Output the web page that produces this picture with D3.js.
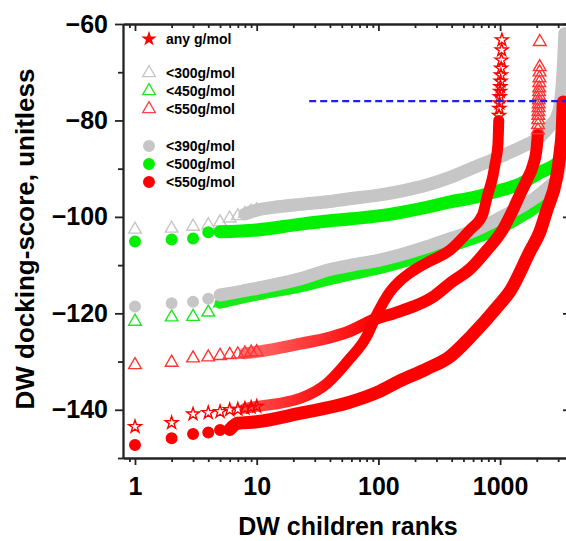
<!DOCTYPE html>
<meta charset="utf-8">

<head>
    <title>DW children ranks</title>
</head>

<style>
    body { margin: 0; background: #fff; }
    text { font-family: Arial, "Liberation Sans", sans-serif; font-weight: bold; fill: #000; }
</style>

<body>
    <svg></svg>

    <script src="https://cdnjs.cloudflare.com/ajax/libs/d3/7.8.5/d3.min.js"></script>
    <script>

        // Data: ranks 1..10 are single markers, the rest is a dense band
        const firstRanks = [1, 2, 3, 4, 5, 6, 7, 8, 9, 10];

        const grayTriFirst = [-102.6, -102.4, -102.0, -101.7, -101.1, -100.3, -99.8, -99.4, -98.9, -98.6];
        const grayTriBand = [[8, -99.4], [10, -98.6], [15, -97.9], [23, -97.4], [40, -96.8], [60, -96.2], [100, -95.5],
            [150, -94.7], [250, -93.4], [388, -91.8], [600, -89.8], [1000, -87.5], [1500, -85.5], [2120, -83.4],
            [2600, -81], [2900, -79.5], [3100, -77], [3250, -72], [3350, -66], [3400, -62]];

        const grayCircFirst = [-118.6, -117.9, -117.6, -117.0, -116.2, -115.8, -115.5, -115.1, -114.9, -114.8];
        const grayCircBand = [[5, -116.2], [10, -114.8], [23, -112.8], [40, -110.9], [60, -110], [100, -109],
            [150, -107.9], [250, -106.2], [388, -104.5], [565, -103.2], [1000, -100.2], [1500, -97.8],
            [2000, -95.8], [2500, -93.8], [2900, -92.2], [3150, -88.5]];

        const greenCircFirst = [-105.1, -104.7, -104.5, -103.2, -103.1, -103.1, -103.0, -102.9, -102.8, -102.7];
        const greenCircBand = [[5, -103.1], [10, -102.7], [23, -101.5], [40, -100.8], [60, -100.4], [100, -99.8],
            [150, -99.1], [250, -98], [388, -96.9], [600, -96], [1000, -94.5], [1450, -93.2], [2120, -90.8],
            [2900, -89], [3100, -88.3], [3250, -86.5]];

        const greenTriFirst = [-121.7, -120.8, -120.7, -119.8, -117.9, -117.4, -116.9, -116.6, -116.4, -116.2];
        const greenTriBand = [[5, -117.9], [10, -116.2], [23, -114.5], [40, -113], [60, -112], [100, -110.8],
            [150, -109.6], [250, -108], [388, -106.3], [565, -104.8], [1000, -102.5], [1500, -100], [2000, -97.9],
            [2700, -93.7], [3100, -90.3]];

        const redTriFirst = [-130.7, -130.2, -129.3, -129.1, -128.8, -128.6, -128.5, -128.3, -128.1, -128.0];
        const redTriBand = [[8, -128.3], [10, -128], [23, -126.3], [40, -125], [57, -123.8], [90, -121.4],
            [150, -119.6], [280, -116.6], [400, -113.5], [565, -110.8], [780, -106.9], [1060, -102.5],
            [1250, -99], [1460, -95.3], [1650, -92.5], [1870, -89.2], [1990, -86.1], [2040, -83]];
        const redTriColumn = [[2045, -82], [2050, -80.9], [2055, -79.9], [2060, -79], [2065, -78.2], [2070, -77.4],
            [2075, -76.6], [2080, -75.8], [2085, -74.9], [2090, -74.1], [2095, -73.3], [2100, -72.2],
            [2105, -71.2], [2110, -70], [2115, -68.9], [2120, -63.7]];

        const starFirst = [-143.5, -142.7, -140.9, -140.6, -140.4, -140.0, -139.9, -139.7, -139.5, -139.3];
        const starBand = [[8, -139.7], [10, -139.3], [15, -138.7], [23, -137.6], [38, -134.5], [57, -129.7],
            [80, -124.8], [96, -120.5], [124, -115.6], [150, -113.3], [182, -111.6], [250, -109.5], [387, -106.9],
            [565, -102.7], [720, -99.5], [780, -96], [873, -91.5], [910, -89], [960, -85], [975, -80]];
        const starColumn = [[980, -79], [985, -77.5], [990, -76.4], [995, -75.1], [1000, -74], [1005, -73],
            [1010, -71.9], [1015, -70.6], [1020, -69.2], [1025, -67.5], [1030, -65.4], [1035, -63.3]];

        const redCircFirst = [-147.3, -145.9, -145.0, -144.7, -144.2, -144.1, -142.8, -142.7, -142.6, -142.5];
        const redCircBand = [[6, -144.1], [7, -142.8], [10, -142.5], [23, -140.7], [57, -138.5], [100, -136.3],
            [150, -134], [250, -131.5], [386, -129], [565, -125], [1000, -118], [1200, -115.5], [1770, -107],
            [2130, -103], [2420, -98.6], [2900, -92], [3100, -87], [3250, -81], [3300, -76.2]];

        const cutoffRanks = [27, 3614];
        const cutoffScore = -76;

        const legendLabels = ['any g/mol', '<300g/mol', '<450g/mol', '<550g/mol', '<390g/mol', '<500g/mol', '<550g/mol'];
        const xTickLabels = [1, 10, 100, 1000];
        const xMinorTicks = [0.9, 2, 3, 4, 5, 6, 7, 8, 9, 20, 30, 40, 50, 60, 70, 80, 90,
            200, 300, 400, 500, 600, 700, 800, 900, 2000, 3000];
        const yTickLabels = [-60, -80, -100, -120, -140];
        const yMinorTicks = [-70, -90, -110, -130, -150];


        // Configuration
        const width = 566;
        const height = 541;
        const plot = { left: 123, right: 568, top: 24, bottom: 458 };

        const gray = '#c6c6c6';
        const green = '#00f000';
        const red = '#ff0000';

        const x = d3.scaleLog().domain([0.797, 3614]).range([plot.left, plot.right]);
        const y = d3.scaleLinear().domain([-150, -60]).range([plot.bottom, plot.top]);

        const shapes = {
            circle: d3.symbol(d3.symbolCircle, 113),
            tri: d3.symbol(d3.symbolTriangle, 70),
            star: d3.symbol(d3.symbolStar, 50),
        };

        // draw order = back to front
        const series = [
            { shape: 'tri', color: gray, bandColor: gray, band: grayTriBand, first: grayTriFirst, w: 13 },
            { shape: 'circle', color: green, bandColor: green, band: greenCircBand, first: greenCircFirst, w: 13 },
            { shape: 'tri', color: '#22e622', bandColor: '#11ee11', band: greenTriBand, first: greenTriFirst, w: 11 },
            { shape: 'circle', color: gray, bandColor: gray, band: grayCircBand, first: grayCircFirst, w: 13 },
            { shape: 'tri', color: '#ff3535', bandColor: 'url(#fadeTri)', band: redTriBand, first: redTriFirst, column: redTriColumn, w: 12 },
            { shape: 'star', color: red, bandColor: 'url(#fadeStar)', band: starBand, first: starFirst, column: starColumn, w: 11 },
            { shape: 'circle', color: red, bandColor: red, band: redCircBand, first: redCircFirst, w: 13 },
        ];


        // Main
        const svg = d3.select('svg').attr('width', width).attr('height', height);

        const defs = svg.append('defs');
        defs.append('clipPath').attr('id', 'clip')
            .append('rect')
            .attr('x', plot.left).attr('y', plot.top)
            .attr('width', plot.right - plot.left).attr('height', plot.bottom - plot.top);

        // hollow markers look lighter where they are still sparse
        [['fadeTri', '#ff7070', 8, 90], ['fadeStar', '#ff5050', 8, 50]].forEach(([id, c, r0, r1]) => {
            const grad = defs.append('linearGradient')
                .attr('id', id)
                .attr('gradientUnits', 'userSpaceOnUse')
                .attr('x1', x(r0)).attr('x2', x(r1))
                .attr('y1', 0).attr('y2', 0);
            grad.append('stop').attr('offset', '0%').attr('stop-color', c);
            grad.append('stop').attr('offset', '100%').attr('stop-color', red);
        });

        // Axes (frame on all four sides)
        const axisG = svg.append('g');
        const styleAxis = g => {
            g.selectAll('path, line').attr('stroke', '#222').attr('stroke-width', 1.8);
            g.selectAll('text').attr('font-size', 25).attr('font-family', 'Arial, "Liberation Sans", sans-serif')
                .attr('font-weight', 'bold').attr('fill', '#000');
        };

        axisG.append('g').attr('transform', `translate(0,${plot.bottom})`)
            .call(d3.axisBottom(x).tickValues(xMinorTicks).tickSize(4).tickSizeOuter(0).tickFormat(''))
            .call(styleAxis);
        axisG.append('g').attr('transform', `translate(0,${plot.bottom})`)
            .call(d3.axisBottom(x).tickValues(xTickLabels).tickSize(7).tickSizeOuter(0).tickPadding(12).tickFormat(d3.format('d')))
            .call(styleAxis);
        axisG.append('g').attr('transform', `translate(0,${plot.top})`)
            .call(d3.axisTop(x).tickValues(xMinorTicks).tickSize(-4).tickSizeOuter(0).tickFormat(''))
            .call(styleAxis);
        axisG.append('g').attr('transform', `translate(0,${plot.top})`)
            .call(d3.axisTop(x).tickValues(xTickLabels).tickSize(-7).tickSizeOuter(0).tickFormat(''))
            .call(styleAxis);

        axisG.append('g').attr('transform', `translate(${plot.left},0)`)
            .call(d3.axisLeft(y).tickValues(yMinorTicks).tickSize(5).tickSizeOuter(0).tickFormat(''))
            .call(styleAxis);
        axisG.append('g').attr('transform', `translate(${plot.left},0)`)
            .call(d3.axisLeft(y).tickValues(yTickLabels).tickSize(8).tickSizeOuter(0).tickPadding(7))
            .call(styleAxis);
        axisG.append('g').attr('transform', `translate(${plot.right},0)`)
            .call(d3.axisRight(y).tickValues(yTickLabels).tickSize(-5).tickSizeOuter(0).tickFormat(''))
            .call(styleAxis);

        // Axis titles
        svg.append('text')
            .attr('x', 348).attr('y', 535)
            .attr('text-anchor', 'middle')
            .attr('font-size', 25)
            .text('DW children ranks');

        svg.append('text')
            .attr('transform', 'translate(34,239) rotate(-90)')
            .attr('text-anchor', 'middle')
            .attr('font-size', 26)
            .text('DW docking-score, unitless');

        // Data
        const dataG = svg.append('g').attr('clip-path', 'url(#clip)');

        const line = d3.line()
            .curve(d3.curveMonotoneX)
            .x(d => x(d[0]))
            .y(d => y(d[1]));

        series.forEach(s => {
            const g = dataG.append('g');
            const filled = s.shape === 'circle';

            g.append('path')
                .attr('d', line(s.band))
                .attr('fill', 'none')
                .attr('stroke', s.bandColor)
                .attr('stroke-width', s.w)
                .attr('stroke-linecap', 'round')
                .attr('stroke-linejoin', 'round');

            const pts = firstRanks.map((r, i) => [r, s.first[i]]).concat(s.column || []);

            g.selectAll('path.mark')
                .data(pts)
                .enter()
                .append('path')
                .attr('class', 'mark')
                .attr('d', shapes[s.shape])
                .attr('transform', d => `translate(${x(d[0])},${y(d[1])})`)
                .attr('fill', filled ? s.color : '#fff')
                .attr('fill-opacity', filled ? 1 : 0)
                .attr('stroke', filled ? 'none' : s.color)
                .attr('stroke-width', 1.4);
        });

        // Cut-off line
        dataG.append('line')
            .attr('x1', x(cutoffRanks[0])).attr('x2', x(cutoffRanks[1]))
            .attr('y1', y(cutoffScore)).attr('y2', y(cutoffScore))
            .attr('stroke', '#1f1ff0')
            .attr('stroke-width', 2.2)
            .attr('stroke-dasharray', '7,4');

        // Legend
        const legendShapes = [
            { shape: d3.symbol(d3.symbolStar, 75), color: red, fill: true },
            { shape: shapes.tri, color: gray, fill: false },
            { shape: shapes.tri, color: '#22e622', fill: false },
            { shape: shapes.tri, color: '#ff4040', fill: false },
            { shape: shapes.circle, color: gray, fill: true },
            { shape: shapes.circle, color: green, fill: true },
            { shape: shapes.circle, color: red, fill: true },
        ];
        const legendRowY = [39, 73, 91, 109, 146, 164, 182];

        const legend = svg.append('g')
            .selectAll('g')
            .data(legendLabels)
            .enter()
            .append('g')
            .attr('transform', (d, i) => `translate(149,${legendRowY[i]})`);

        legend.append('path')
            .attr('d', (d, i) => legendShapes[i].shape())
            .attr('fill', (d, i) => legendShapes[i].fill ? legendShapes[i].color : 'none')
            .attr('stroke', (d, i) => legendShapes[i].fill ? 'none' : legendShapes[i].color)
            .attr('stroke-width', 1.3);

        legend.append('text')
            .attr('x', 17)
            .attr('y', 5)
            .attr('font-size', 14)
            .text(d => d);

    </script>

</body>

</html>
